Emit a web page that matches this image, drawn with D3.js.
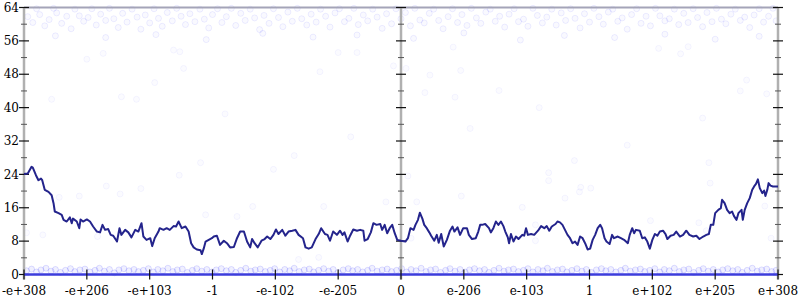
<!DOCTYPE html>
<html>
<head>
<meta charset="utf-8">
<script src="https://cdn.jsdelivr.net/npm/d3@7"></script>
<style>
  body { margin: 0; background: #fff; }
  svg { display: block; font-family: "DejaVu Serif", serif; }
</style>
</head>
<body>
<div id="chart"></div>
<script>
// tick labels, one per equal step along the bottom
const xLabels = ["-e+308", "-e+206", "-e+103", "-1", "-e-102", "-e-205", "0",
                 "e-206", "e-103", "1", "e+102", "e+205", "e+308"];
const yMajor = [0, 8, 16, 24, 32, 40, 48, 56, 64];
const yMinor = [4, 12, 20, 28, 36, 44, 52, 60];
const axisPositions = [0, 6, 12];

// running line: position in label steps, value
const lineX = [0, 0.06, 0.12, 0.14, 0.19, 0.23, 0.27, 0.29, 0.33, 0.39, 0.44, 0.47, 0.49, 0.55, 0.60, 0.63,
  0.68, 0.73, 0.76, 0.78, 0.84, 0.88, 0.90, 0.94, 1.00, 1.05, 1.10, 1.16, 1.21, 1.25, 1.29, 1.34,
  1.38, 1.42, 1.48, 1.52, 1.55, 1.61, 1.66, 1.71, 1.77, 1.82, 1.87, 1.90, 1.95, 2.01, 2.04, 2.08,
  2.14, 2.16, 2.22, 2.27, 2.32, 2.38, 2.42, 2.46, 2.51, 2.57, 2.62, 2.66, 2.70, 2.75, 2.81, 2.83,
  2.86, 2.89, 2.94, 2.99, 3.02, 3.07, 3.12, 3.18, 3.23, 3.28, 3.34, 3.39, 3.44, 3.50, 3.55, 3.60,
  3.63, 3.67, 3.72, 3.78, 3.83, 3.87, 3.92, 3.97, 4.01, 4.05, 4.11, 4.16, 4.21, 4.27, 4.32, 4.37,
  4.44, 4.48, 4.53, 4.58, 4.64, 4.69, 4.73, 4.79, 4.83, 4.87, 4.92, 4.98, 5.03, 5.07, 5.10, 5.15,
  5.19, 5.24, 5.30, 5.35, 5.40, 5.42, 5.47, 5.52, 5.56, 5.61, 5.67, 5.70, 5.74, 5.78, 5.82, 5.86,
  5.90, 5.94, 6.00, 6.07, 6.11, 6.15, 6.20, 6.23, 6.27, 6.30, 6.34, 6.37, 6.41, 6.45, 6.48, 6.53,
  6.57, 6.60, 6.64, 6.68, 6.73, 6.78, 6.82, 6.85, 6.90, 6.94, 6.99, 7.05, 7.08, 7.13, 7.19, 7.23,
  7.26, 7.29, 7.34, 7.40, 7.43, 7.47, 7.51, 7.55, 7.59, 7.63, 7.66, 7.70, 7.72, 7.75, 7.79, 7.83,
  7.87, 7.93, 7.96, 7.99, 8.02, 8.07, 8.12, 8.18, 8.23, 8.28, 8.32, 8.36, 8.40, 8.46, 8.49, 8.53,
  8.57, 8.61, 8.65, 8.69, 8.73, 8.77, 8.81, 8.85, 8.89, 8.93, 8.97, 9.01, 9.05, 9.09, 9.13, 9.17,
  9.20, 9.24, 9.27, 9.32, 9.36, 9.39, 9.45, 9.50, 9.55, 9.61, 9.64, 9.68, 9.71, 9.74, 9.80, 9.84,
  9.88, 9.92, 9.96, 10.00, 10.04, 10.08, 10.12, 10.17, 10.21, 10.24, 10.29, 10.34, 10.38, 10.44, 10.49, 10.54,
  10.59, 10.65, 10.70, 10.75, 10.81, 10.86, 10.90, 10.93, 10.97, 11.00, 11.05, 11.09, 11.11, 11.15, 11.19, 11.23,
  11.27, 11.30, 11.34, 11.37, 11.42, 11.44, 11.47, 11.51, 11.55, 11.59, 11.62, 11.65, 11.68, 11.71, 11.75, 11.78,
  11.80, 11.83, 11.85, 11.88, 11.92, 12.00];
const lineY = [24.1, 24.2, 25.8, 25.6, 23.8, 22.6, 23.0, 22.6, 20.3, 19.8, 19.0, 17.1, 15.1, 14.7, 14.3, 13.1,
  12.7, 13.7, 12.3, 13.4, 12.7, 11.1, 13.2, 12.7, 13.2, 12.7, 11.5, 10.3, 10.1, 11.9, 10.7, 10.9,
  9.5, 9.3, 7.9, 11.1, 9.5, 10.7, 10.1, 8.9, 10.7, 10.3, 12.3, 9.1, 8.3, 8.7, 6.8, 8.7,
  10.3, 11.1, 10.7, 11.1, 10.7, 11.6, 11.5, 12.7, 11.1, 11.5, 10.3, 7.5, 6.5, 6.0, 5.8, 4.9,
  6.2, 7.9, 8.3, 8.7, 9.1, 9.3, 7.1, 8.1, 7.5, 6.5, 6.6, 8.7, 10.3, 10.3, 7.9, 6.5,
  8.5, 7.5, 6.5, 8.1, 8.5, 9.1, 8.5, 9.5, 10.8, 9.7, 10.7, 9.3, 10.3, 10.5, 10.7, 9.5,
  8.7, 6.5, 6.2, 6.5, 8.5, 9.7, 11.1, 9.7, 9.5, 8.1, 10.3, 9.5, 10.5, 9.5, 10.1, 7.9,
  9.3, 10.8, 10.5, 10.7, 10.5, 8.1, 8.5, 10.1, 12.3, 11.9, 12.1, 10.7, 11.9, 9.9, 11.1, 11.9,
  9.9, 8.3, 8.1, 7.9, 8.7, 11.1, 10.7, 11.9, 13.1, 14.8, 13.4, 11.9, 11.1, 10.1, 9.3, 8.1,
  9.5, 7.6, 9.7, 6.7, 8.3, 10.5, 11.5, 10.3, 11.3, 9.5, 11.1, 11.1, 9.5, 8.5, 8.7, 10.3,
  11.9, 11.9, 12.1, 11.1, 10.1, 11.1, 12.7, 11.9, 12.7, 11.6, 10.3, 8.9, 7.5, 9.7, 7.9, 9.1,
  8.5, 9.5, 9.3, 11.1, 9.5, 9.7, 9.5, 10.5, 11.6, 11.1, 11.6, 10.5, 11.5, 12.1, 12.7, 12.5,
  11.9, 10.7, 9.5, 8.7, 7.5, 7.9, 7.1, 9.1, 8.7, 7.5, 6.0, 6.2, 8.3, 9.5, 11.1, 11.9,
  11.1, 8.7, 7.9, 7.3, 9.5, 8.7, 9.1, 8.7, 8.3, 7.5, 9.5, 11.1, 9.9, 10.7, 10.5, 8.7,
  8.9, 7.9, 6.2, 8.3, 9.7, 9.3, 10.3, 10.5, 9.7, 8.5, 9.3, 9.5, 10.3, 9.1, 9.5, 10.5,
  9.5, 9.1, 9.3, 8.5, 9.1, 9.5, 9.7, 11.9, 11.9, 14.7, 15.5, 15.9, 17.9, 17.1, 15.5, 14.7,
  15.1, 14.0, 13.1, 14.7, 15.5, 13.1, 15.5, 17.1, 18.3, 20.3, 21.1, 21.7, 22.8, 20.7, 19.5, 20.1,
  18.8, 20.3, 21.9, 21.3, 21.1, 21.1];

// faint samples near the top
const topCloud = [
  [0.06,61.8],[0.14,60.4],[0.2,63.7],[0.25,62.3],[0.33,59.6],[0.4,61.1],[0.47,63.8],[0.52,62.7],[0.6,60.2],[0.68,61.9],[0.75,58.9],[0.81,63.6],[0.88,62.0],
  [0.95,60.7],[1.02,61.6],[1.08,63.7],[1.15,59.8],[1.22,62.4],[1.3,60.9],[1.36,63.8],[1.43,61.3],[1.5,59.2],[1.57,62.6],[1.64,60.5],[1.72,63.6],[1.8,61.7],[1.86,58.8],
  [1.93,62.2],[2.0,60.3],[2.07,63.7],[2.14,61.4],[2.2,59.5],[2.28,62.8],[2.36,60.8],[2.43,63.8],[2.5,61.9],[2.57,59.9],[2.64,62.5],[2.72,60.6],[2.8,63.6],
  [2.87,61.2],[2.94,59.1],[3.0,62.3],[3.08,63.7],[3.15,60.4],[3.22,61.8],[3.3,63.8],[3.37,59.7],[3.45,62.6],[3.52,60.9],[3.6,63.6],[3.67,61.5],[3.75,58.7],
  [3.82,62.1],[3.9,60.2],[3.97,63.7],[4.05,61.6],[4.12,59.4],[4.2,62.9],[4.27,60.7],[4.35,63.8],[4.42,61.3],[4.5,59.8],[4.57,62.4],[4.65,60.5],[4.72,63.6],
  [4.8,61.9],[4.87,59.3],[4.95,62.7],[5.02,63.7],[5.1,60.6],[5.17,61.4],[5.25,63.8],[5.32,59.9],[5.4,62.2],[5.47,60.8],[5.55,63.6],[5.62,61.7],[5.7,59.0],
  [5.77,62.5],[5.85,60.1],[5.92,63.7],[6.0,61.3],[6.07,62.8],[6.15,59.6],[6.22,63.8],[6.3,61.0],[6.37,60.3],[6.45,62.6],[6.52,63.6],[6.6,60.9],[6.67,58.9],
  [6.75,61.8],[6.82,63.7],[6.9,60.4],[6.97,62.3],[7.05,59.7],[7.12,63.8],[7.2,61.5],[7.27,60.2],[7.35,62.9],[7.42,63.6],[7.5,60.7],[7.57,61.9],[7.65,59.3],
  [7.72,62.4],[7.8,63.7],[7.87,60.6],[7.95,61.2],[8.02,59.5],[8.1,63.8],[8.17,62.1],[8.25,60.3],[8.32,61.7],[8.4,63.6],[8.47,59.8],[8.55,62.7],[8.62,60.9],
  [8.7,63.7],[8.77,61.4],[8.85,59.1],[8.92,62.5],[9.0,60.5],[9.07,63.8],[9.15,61.8],[9.22,60.0],[9.3,62.9],[9.37,63.6],[9.45,60.7],[9.52,61.5],[9.6,58.8],
  [9.67,62.3],[9.75,63.7],[9.82,60.2],[9.9,61.9],[9.97,59.6],[10.05,63.8],[10.12,62.0],[10.2,60.8],[10.27,61.3],[10.35,63.6],[10.42,59.9],[10.5,62.6],[10.57,60.4],
  [10.65,63.7],[10.72,61.6],[10.8,59.4],[10.87,62.8],[10.95,60.6],[11.02,63.8],[11.1,61.2],[11.17,60.1],[11.25,62.4],[11.32,63.6],[11.4,60.9],[11.47,61.7],[11.55,59.2],
  [11.62,62.2],[11.7,63.7],[11.77,60.5],[11.85,61.9],[11.92,63.8],[11.97,60.8],
  [0.5,57.2],[1.3,56.8],[2.1,57.5],[2.9,56.3],[3.8,57.8],[4.6,56.9],[5.3,57.4],[6.2,56.6],
  [7.0,57.9],[7.9,56.2],[8.6,57.3],[9.4,56.8],[10.2,57.6],[11.0,56.4],[11.7,57.1]
];

// sparse samples in the middle
const midCloud = [
  [1.26,53.0],[1.00,51.6],[2.38,53.8],[2.48,53.4],[2.54,49.4],[2.08,46.0],[1.55,42.6],[0.44,42.0],
  [1.79,42.0],[4.71,48.6],[5.00,53.2],[5.30,53.2],[5.88,50.0],[6.08,49.4],[6.46,47.8],[6.95,48.9],
  [6.38,43.6],[6.86,42.5],[7.56,44.1],[6.83,54.5],[10.10,54.2],[10.45,52.9],[10.57,54.6],[11.50,46.6],
  [11.40,44.0],[11.82,43.3],[1.31,21.2],[0.88,18.8],[1.53,19.3],[1.86,20.6],[0.56,18.5],[0.04,10.0],
  [0.30,9.5],[1.17,9.1],[2.81,26.8],[2.47,23.8],[3.97,25.2],[2.89,14.3],[3.39,13.9],[3.64,16.3],
  [4.77,16.3],[4.69,4.1],[4.37,3.6],[6.11,23.6],[5.76,17.4],[6.25,17.4],[6.96,18.8],[6.16,8.7],
  [8.76,27.3],[8.35,24.4],[8.35,22.5],[8.86,20.9],[9.02,20.7],[8.84,19.8],[8.61,18.3],[7.93,16.1],
  [8.14,11.9],[8.14,8.1],[10.90,26.8],[10.92,21.9],[9.97,12.9],[10.74,12.4],[10.86,10.5],[11.79,16.4],
  [11.89,8.7],[3.2,38.5],[7.1,35.0],[9.6,31.0],[5.2,33.0],[10.8,37.5],[8.2,40.0],[4.3,28.5]
];

// faint samples near zero
const bottomCloud = [
  [0.04,0.9],[0.12,1.3],[0.2,0.6],[0.27,1.1],[0.35,1.5],[0.43,0.8],[0.5,1.2],[0.58,0.5],[0.66,1.0],[0.74,1.4],[0.81,0.7],[0.89,1.1],
  [0.97,1.3],[1.05,0.6],[1.13,1.0],[1.2,1.5],[1.28,0.8],[1.36,1.2],[1.44,0.4],[1.51,1.1],[1.59,1.4],[1.67,0.9],[1.75,1.2],[1.82,0.7],
  [1.9,1.0],[1.98,1.4],[2.06,0.6],[2.13,1.2],[2.21,0.9],[2.29,1.5],[2.37,0.7],[2.44,1.1],[2.52,1.3],[2.6,0.5],[2.68,1.0],[2.75,1.4],
  [2.83,0.8],[2.91,1.2],[2.99,0.6],[3.06,1.1],[3.14,1.4],[3.22,0.9],[3.3,1.2],[3.37,0.5],[3.45,1.0],[3.53,1.5],[3.61,0.8],[3.68,1.1],
  [3.76,1.3],[3.84,0.7],[3.92,1.0],[3.99,1.4],[4.07,0.6],[4.15,1.2],[4.23,0.9],[4.3,1.5],[4.38,0.7],[4.46,1.1],[4.54,1.3],[4.61,0.6],
  [4.69,1.0],[4.77,1.4],[4.85,0.8],[4.92,1.2],[5.0,0.5],[5.08,1.1],[5.16,1.4],[5.23,0.9],[5.31,1.2],[5.39,0.6],[5.47,1.0],[5.54,1.5],
  [5.62,0.8],[5.7,1.1],[5.78,1.3],[5.85,0.7],[5.93,1.0],[6.01,1.4],[6.09,0.6],[6.16,1.2],[6.24,0.9],[6.32,1.5],[6.4,0.7],[6.47,1.1],
  [6.55,1.3],[6.63,0.5],[6.71,1.0],[6.78,1.4],[6.86,0.8],[6.94,1.2],[7.02,0.6],[7.09,1.1],[7.17,1.4],[7.25,0.9],[7.33,1.2],[7.4,0.5],
  [7.48,1.0],[7.56,1.5],[7.64,0.8],[7.71,1.1],[7.79,1.3],[7.87,0.7],[7.95,1.0],[8.02,1.4],[8.1,0.6],[8.18,1.2],[8.26,0.9],[8.33,1.5],
  [8.41,0.7],[8.49,1.1],[8.57,1.3],[8.64,0.6],[8.72,1.0],[8.8,1.4],[8.88,0.8],[8.95,1.2],[9.03,0.5],[9.11,1.1],[9.19,1.4],[9.26,0.9],
  [9.34,1.2],[9.42,0.6],[9.5,1.0],[9.57,1.5],[9.65,0.8],[9.73,1.1],[9.81,1.3],[9.88,0.7],[9.96,1.0],[10.04,1.4],[10.12,0.6],[10.19,1.2],
  [10.27,0.9],[10.35,1.5],[10.43,0.7],[10.5,1.1],[10.58,1.3],[10.66,0.5],[10.74,1.0],[10.81,1.4],[10.89,0.8],[10.97,1.2],[11.05,0.6],[11.12,1.1],
  [11.2,1.4],[11.28,0.9],[11.36,1.2],[11.43,0.5],[11.51,1.0],[11.59,1.5],[11.67,0.8],[11.74,1.1],[11.82,1.3],[11.9,0.7],[11.97,1.0]
];

const width = 800, height = 300;

const x = d3.scaleLinear().domain([0, 12]).range([24, 778]);
const y = d3.scaleLinear().domain([0, 64]).range([274.5, 7.5]);

const svg = d3.select("#chart").append("svg")
    .attr("width", width)
    .attr("height", height);

// scatter clouds, very faint; the zero band is denser so it reads darker
const clouds = [
    { pts: topCloud, fill: 0.025, stroke: 0.07 },
    { pts: midCloud, fill: 0.015, stroke: 0.045 },
    { pts: bottomCloud, fill: 0.06, stroke: 0.12 }
];
clouds.forEach(c => {
    svg.append("g")
       .selectAll("circle")
       .data(c.pts)
       .join("circle")
       .attr("cx", d => x(d[0]))
       .attr("cy", d => y(d[1]))
       .attr("r", 3)
       .attr("fill", "#0000ff")
       .attr("fill-opacity", c.fill)
       .attr("stroke", "#0000ff")
       .attr("stroke-opacity", c.stroke);
});

// gray frame: top rule and the three vertical axes
svg.append("line")
   .attr("x1", x(0)).attr("x2", x(12))
   .attr("y1", y(64)).attr("y2", y(64))
   .attr("stroke", "#a4a4b8").attr("stroke-width", 2);

svg.append("g")
   .selectAll("line")
   .data(axisPositions)
   .join("line")
   .attr("x1", d => x(d)).attr("x2", d => x(d))
   .attr("y1", y(64)).attr("y2", y(0) + 5)
   .attr("stroke", "#b0b0b0").attr("stroke-width", 2.5);

// ticks crossing each vertical axis
axisPositions.forEach(a => {
    const g = svg.append("g");
    g.selectAll(".major")
     .data(yMajor)
     .join("line")
     .attr("class", "major")
     .attr("x1", x(a) - 5).attr("x2", x(a) + 5)
     .attr("y1", d => y(d)).attr("y2", d => y(d))
     .attr("stroke", "#111").attr("stroke-width", 1.2);
    g.selectAll(".minor")
     .data(yMinor)
     .join("line")
     .attr("class", "minor")
     .attr("x1", x(a) - 3).attr("x2", x(a) + 3)
     .attr("y1", d => y(d)).attr("y2", d => y(d))
     .attr("stroke", "#555").attr("stroke-width", 1);
});

// y labels on the left
svg.append("g")
   .selectAll("text")
   .data(yMajor)
   .join("text")
   .attr("x", x(0) - 5)
   .attr("y", d => y(d))
   .attr("dy", "0.35em")
   .attr("text-anchor", "end")
   .attr("font-size", 12)
   .attr("fill", "#000")
   .text(d => d);

// zero rule, saturated by the samples sitting at 0
svg.append("line")
   .attr("x1", x(0)).attr("x2", x(12))
   .attr("y1", y(0)).attr("y2", y(0))
   .attr("stroke", "#3c3cdc").attr("stroke-width", 2.5);

// x ticks and labels
const xg = svg.append("g");
xg.selectAll("line")
  .data(xLabels)
  .join("line")
  .attr("x1", (d, i) => x(i)).attr("x2", (d, i) => x(i))
  .attr("y1", y(0) - 5).attr("y2", y(0) + 5)
  .attr("stroke", "#111").attr("stroke-width", 1.2);
xg.selectAll("text")
  .data(xLabels)
  .join("text")
  .attr("x", (d, i) => x(i))
  .attr("y", y(0) + 20.5)
  .attr("text-anchor", "middle")
  .attr("font-size", 12)
  .attr("fill", "#000")
  .text(d => d);

// the line
const line = d3.line()
    .x((d, i) => x(lineX[i]))
    .y(d => y(d));

svg.append("path")
   .datum(lineY)
   .attr("d", line)
   .attr("fill", "none")
   .attr("stroke", "#24248c")
   .attr("stroke-width", 2)
   .attr("stroke-linejoin", "round");
</script>
</body>
</html>
